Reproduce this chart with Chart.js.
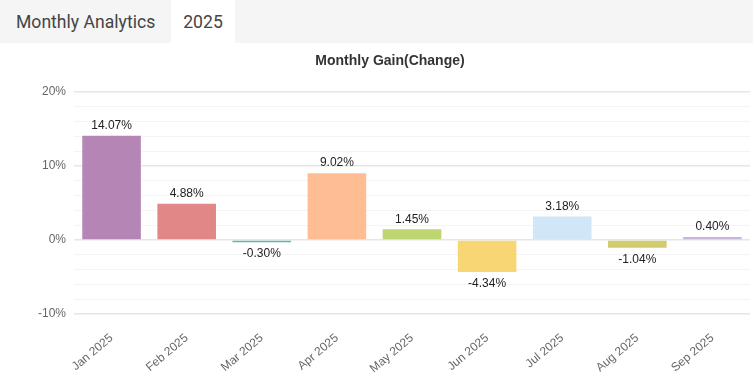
<!DOCTYPE html>
<html>
<head>
<meta charset="utf-8">
<script src="https://cdn.jsdelivr.net/npm/chart.js@4.4.1/dist/chart.umd.min.js"></script>
<style>
  html, body { margin: 0; padding: 0; background: #fff; }
  .header {
    height: 43px;
    background: #f5f5f5;
    display: flex;
    align-items: stretch;
    font-family: Roboto, sans-serif;
    font-size: 17.6px;
    color: #444;
  }
  .tab { padding: 0 16px 0 16px; display: flex; align-items: center; }
  .tab.active { background: #fff; padding: 0 12px; }
  .chartBox { position: relative; width: 753px; height: 332px; }
</style>
</head>
<body>
<div class="header">
  <div class="tab">Monthly Analytics</div>
  <div class="tab active">2025</div>
</div>
<div class="chartBox"><canvas id="gain"></canvas></div>
<script>
const months = ["Jan 2025", "Feb 2025", "Mar 2025", "Apr 2025", "May 2025", "Jun 2025", "Jul 2025", "Aug 2025", "Sep 2025"];
const gains = [14.07, 4.88, -0.30, 9.02, 1.45, -4.34, 3.18, -1.04, 0.40];
const barColors = ["#b586b5", "#e28787", "#5cb8b3", "#ffbd94", "#bed66f", "#f7d673", "#d1e6f7", "#d3cc6c", "#c9b5dc"];
const yMin = -10;
const yMax = 20;

// draws the value above/below each bar
const valueLabels = {
  id: "valueLabels",
  afterDatasetsDraw(chart) {
    const ctx = chart.ctx;
    const meta = chart.getDatasetMeta(0);
    ctx.save();
    ctx.font = "12px 'Liberation Sans', Arial, sans-serif";
    ctx.fillStyle = "#222";
    ctx.textAlign = "center";
    meta.data.forEach((bar, i) => {
      const v = gains[i];
      const txt = v.toFixed(2) + "%";
      if (v >= 0) {
        ctx.textBaseline = "bottom";
        ctx.fillText(txt, bar.x, bar.y - 4);
      } else {
        ctx.textBaseline = "top";
        ctx.fillText(txt, bar.x, bar.y + 6);
      }
    });
    ctx.restore();
  }
};

new Chart(document.getElementById("gain"), {
  type: "bar",
  data: {
    labels: months,
    datasets: [{
      data: gains,
      backgroundColor: barColors,
      borderWidth: 0,
      barPercentage: 0.78,
      categoryPercentage: 1.0
    }]
  },
  options: {
    responsive: true,
    maintainAspectRatio: false,
    animation: false,
    layout: { padding: { left: 30, right: 3, top: 0, bottom: 0 } },
    plugins: {
      legend: { display: false },
      tooltip: { enabled: false },
      title: {
        display: true,
        text: "Monthly Gain(Change)",
        color: "#333",
        font: { family: "'Liberation Sans', Arial, sans-serif", size: 14, weight: "bold" },
        padding: { top: 10, bottom: 22 }
      }
    },
    scales: {
      x: {
        grid: { display: false },
        border: { display: false },
        afterFit: (scale) => { scale.height = 61; },
        ticks: {
          color: "#666",
          font: { family: "'Liberation Sans', Arial, sans-serif", size: 12 },
          maxRotation: 40,
          minRotation: 40,
          padding: 9
        }
      },
      y: {
        min: yMin,
        max: yMax,
        border: { display: false },
        grid: {
          drawTicks: false,
          color: (c) => (c.tick && c.tick.value % 10 === 0) ? "#e6e6e6" : "#f4f4f4",
          lineWidth: (c) => (c.tick && c.tick.value % 10 === 0) ? 1.5 : 1
        },
        ticks: {
          stepSize: 2,
          autoSkip: false,
          padding: 8,
          color: "#666",
          font: { family: "'Liberation Sans', Arial, sans-serif", size: 12 },
          callback: (v) => (v % 10 === 0) ? v + "%" : ""
        }
      }
    }
  },
  plugins: [valueLabels]
});
</script>
</body>
</html>
